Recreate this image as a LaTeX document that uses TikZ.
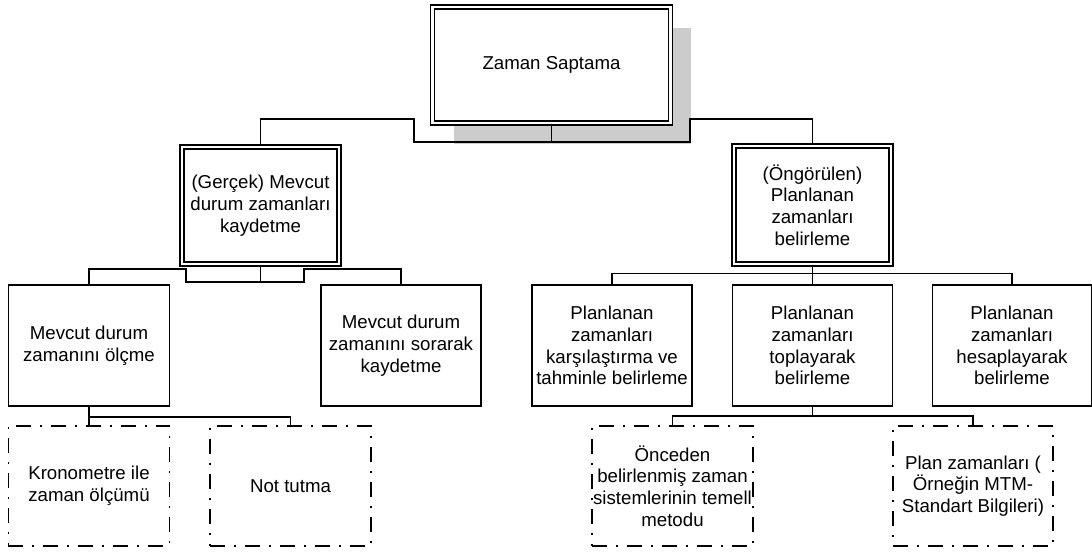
\documentclass[tikz,border=0pt]{standalone}
\usepackage{fontspec}
\setmainfont{Liberation Sans}
\usepackage{tikz}
\usetikzlibrary{shadows}
\tikzstyle{link} = [line width=1pt]
\tikzstyle{mainbox} = [rectangle, draw=black, fill=white, double, line width=0.9pt, double distance=2.1pt, align=center, inner sep=0pt]
\tikzstyle{subbox} = [rectangle, draw=black, fill=white, line width=1pt, align=center, inner sep=0pt]
\tikzstyle{leafbox} = [rectangle, draw=black, line width=1pt, dash pattern=on 11.25pt off 6.75pt on 1.5pt off 6.75pt, align=center, inner sep=0pt]

\begin{document}
\begin{tikzpicture}[x=0.75pt, y=-0.75pt, font=\fontsize{14pt}{16.3pt}\selectfont]
    \useasboundingbox (0,0) rectangle (1092,552);

    % Top
    \node[mainbox, minimum width=178pt, minimum height=87pt,
          drop shadow={shadow xshift=15.5pt, shadow yshift=-15.5pt, fill=gray!40, opacity=1}]
        (zaman) at (551.5,65) {Zaman Saptama};

    % Second level
    \node[mainbox, minimum width=117.75pt, minimum height=87.75pt] (gercek) at (260.5,205.5)
        {(Gerçek) Mevcut\\durum zamanları\\kaydetme};
    \node[mainbox, minimum width=117.75pt, minimum height=88.5pt] (ongorulen) at (812.5,205)
        {(Öngörülen)\\Planlanan\\zamanları\\belirleme};

    % Third level
    \node[subbox, minimum width=121pt, minimum height=90.5pt] (olcme) at (89,345.5)
        {Mevcut durum\\zamanını ölçme};
    \node[subbox, minimum width=120pt, minimum height=90.5pt] (sorarak) at (401,345.5)
        {Mevcut durum\\zamanını sorarak\\kaydetme};
    \node[subbox, minimum width=120pt, minimum height=90.5pt] (karsilastirma) at (612,345.5)
        {Planlanan\\zamanları\\karşılaştırma ve\\tahminle belirleme};
    \node[subbox, minimum width=120pt, minimum height=90.5pt] (toplayarak) at (812.5,345.5)
        {Planlanan\\zamanları\\toplayarak\\belirleme};
    \node[subbox, minimum width=119pt, minimum height=90.5pt] (hesaplayarak) at (1012,345.5)
        {Planlanan\\zamanları\\hesaplayarak\\belirleme};

    % Bottom level
    \node[leafbox, minimum width=121pt, minimum height=90pt] (kronometre) at (89,486)
        {Kronometre ile\\zaman ölçümü};
    \node[leafbox, minimum width=120.75pt, minimum height=90pt] (nottutma) at (290.5,486)
        {Not tutma};
    \node[leafbox, minimum width=120.75pt, minimum height=90pt] (onceden) at (672.5,486)
        {Önceden\\belirlenmiş zaman\\sistemlerinin temell\\metodu};
    \node[leafbox, minimum width=120pt, minimum height=90pt] (plan) at (973,486)
        {Plan zamanları (\\Örneğin MTM-\\Standart Bilgileri)};

    % Connectors
    \draw[link] (zaman.south) |- (414,142) -- (414,119) -| (gercek.north);
    \draw[link] (zaman.south) |- (690,142) -- (690,119) -| (ongorulen.north);

    \draw[link] (gercek.south) |- (186,282) -- (186,269) -| (olcme.north);
    \draw[link] (gercek.south) |- (304,282) -- (304,269) -| (sorarak.north);

    \draw[link] (ongorulen.south) -- ++(0,9) -| (karsilastirma.north);
    \draw[link] (ongorulen.south) -- (toplayarak.north);
    \draw[link] (ongorulen.south) -- ++(0,9) -| (hesaplayarak.north);

    \draw[link] (olcme.south) -- (kronometre.north);
    \draw[link] (olcme.south) -- ++(0,10.5) -| (nottutma.north);

    \draw[link] (toplayarak.south) -- ++(0,9.5) -| (onceden.north);
    \draw[link] (toplayarak.south) -- ++(0,9.5) -| (plan.north);
\end{tikzpicture}
\end{document}
